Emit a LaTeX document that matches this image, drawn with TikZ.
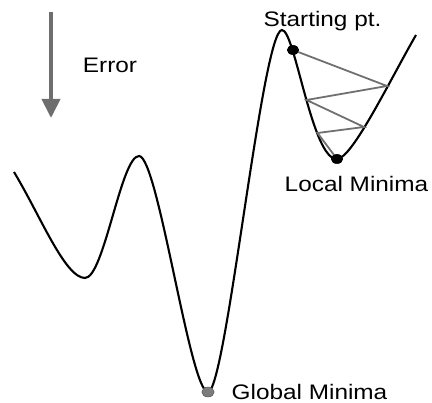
\documentclass[tikz,border=0pt]{standalone}
\usepackage{fontspec}
\setmainfont{Liberation Sans}[FakeStretch=1.16]
\usetikzlibrary{shapes.geometric,arrows.meta}
\definecolor{arrowgray}{HTML}{6E6E6E}
\definecolor{zigzag}{HTML}{707070}
\definecolor{dotgray}{HTML}{7C7C7C}
\begin{document}
\begin{tikzpicture}[x=1pt,y=-1pt,
  label/.style={anchor=base,inner sep=0pt,font=\fontsize{21}{25}\selectfont},
  curve/.style={draw=black,line width=2.1pt},
  zz/.style={draw=zigzag,line width=1.8pt},
  dot/.style={ellipse,fill=black,minimum width=12pt,minimum height=9.5pt,inner sep=0pt},
  gdot/.style={ellipse,fill=dotgray,draw=black!70,line width=0.4pt,minimum width=12.5pt,minimum height=10pt,inner sep=0pt}]
\useasboundingbox (0,0) rectangle (432,403);
% curve key points
\coordinate (c0) at (14,172);
\coordinate (m1) at (85,278);
\coordinate (p1) at (139,156);
\coordinate (gm) at (208,392);
\coordinate (p2) at (282,30);
\coordinate (lm) at (337,159);
\coordinate (ce) at (416,35);
\draw[curve] (c0) .. controls (40,215) and (65,278) .. (m1)
  .. controls (104,278) and (121,156) .. (p1)
  .. controls (158,156) and (190,392) .. (gm)
  .. controls (226,392) and (262,30) .. (p2)
  .. controls (295,30) and (312,160) .. (lm)
  .. controls (352,159) and (390,80) .. (ce);
% zigzag
\coordinate (r1) at (387,86);
\coordinate (l1) at (306.5,100);
\coordinate (r2) at (364,127);
\coordinate (l2) at (317.5,133);
\node[dot] (start) at (293,50) {};
\node[dot] (local) at (337,159) {};
\node[gdot] (global) at (208,392) {};
\draw[zz] (start.center) -- (r1) -- (l1) -- (r2) -- (l2) -- (local.center);
\node[dot] at (293,50) {};
\node[dot] at (337,159) {};
% error arrow
\coordinate (a0) at (51,12);
\coordinate (a1) at (51,118);
\draw[arrowgray,line width=4pt,-{Triangle[width=18pt,length=19pt]}] (a0) -- (a1);
% labels
\node[label] (starttxt) at (322.5,27) {Starting pt.};
\node[label] (errtxt) at (110,73) {Error};
\node[label] (localtxt) at (356.5,192) {Local Minima};
\node[label] (globaltxt) at (309.5,400) {Global Minima};
\end{tikzpicture}
\end{document}
